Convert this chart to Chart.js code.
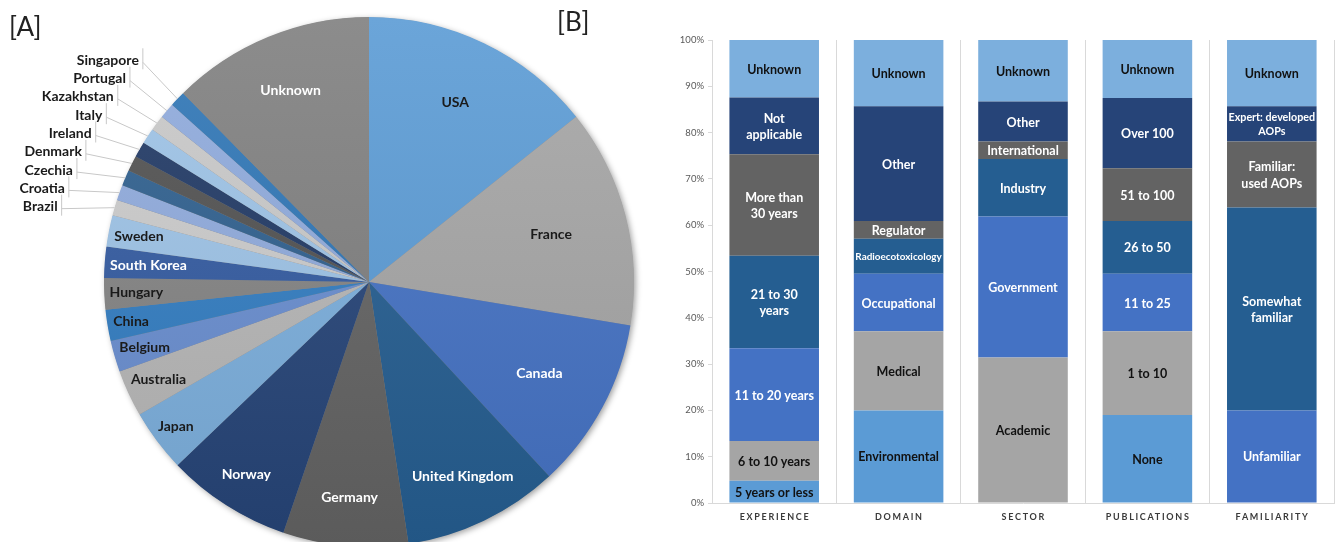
<!DOCTYPE html>
<html>
<head>
<meta charset="utf-8">
<script src="https://cdn.jsdelivr.net/npm/chart.js@4.4.1/dist/chart.umd.min.js"></script>
<style>
html, body { margin: 0; padding: 0; background: #fff; overflow: hidden; width: 1339px; height: 542px; }
#pieWrap { position: absolute; left: 0; top: 0; width: 650px; height: 564px; }
#barWrap { position: absolute; left: 650px; top: 0; width: 689px; height: 542px; }
.panel { position: absolute; font-family: Lato, sans-serif; font-size: 26px; color: #222; z-index: 2; }
</style>
</head>
<body>
<div class="panel" style="left:9px;top:10px">[A]</div>
<div class="panel" style="left:557px;top:5px">[B]</div>
<div id="pieWrap"><canvas id="pie"></canvas></div>
<div id="barWrap"><canvas id="bar"></canvas></div>
<script>
// [A] respondents by country (clockwise from 12 o'clock)
var countries = ['USA', 'France', 'Canada', 'United Kingdom', 'Germany', 'Norway', 'Japan', 'Australia',
    'Belgium', 'China', 'Hungary', 'South Korea', 'Sweden', 'Brazil', 'Croatia', 'Czechia', 'Denmark',
    'Ireland', 'Italy', 'Kazakhstan', 'Portugal', 'Singapore', 'Unknown'];
var respondents = [15, 14, 11, 10, 8, 8, 4, 3, 2, 2, 2, 2, 2, 1, 1, 1, 1, 1, 1, 1, 1, 1, 13];

var pieColors = ['#5B9BD5', '#A5A5A5', '#4472C4', '#255E91', '#636363', '#264478', '#7CAFDD', '#B7B7B7',
    '#698ED0', '#327DC2', '#848484', '#335AA1', '#9DC3E6', '#CBCBCB', '#8FAADC', '#2E5F8E', '#505050',
    '#203864', '#9DC3E6', '#C9C9C9', '#8FAADC', '#2E75B6', '#7F7F7F'];
var pieWhiteText = ['Canada', 'United Kingdom', 'Germany', 'Norway', 'South Korea', 'Unknown'];
// label distance (fraction of radius) for the big slices, the rest sit at the inside end
var pieLabelRadius = { 'USA': 0.75, 'France': 0.71, 'Canada': 0.73, 'United Kingdom': 0.815,
    'Germany': 0.815, 'Norway': 0.86, 'Unknown': 0.78 };

// [B] stacked percentages, 7 levels per group (0 = level not used)
var groups = ['EXPERIENCE', 'DOMAIN', 'SECTOR', 'PUBLICATIONS', 'FAMILIARITY'];
var experience = [4.8, 8.6, 20.0, 20.0, 21.9, 12.3, 12.4];
var domain = [20.0, 17.1, 12.4, 7.6, 3.8, 24.8, 14.3];
var sector = [0, 31.4, 30.5, 12.4, 3.8, 8.6, 13.3];
var publications = [19.0, 18.1, 12.4, 11.4, 11.4, 15.2, 12.5];
var familiarity = [0, 0, 20.0, 43.8, 14.3, 7.6, 14.3];

var experienceLabels = ['5 years or less', '6 to 10 years', '11 to 20 years', ['21 to 30', 'years'],
    ['More than', '30 years'], ['Not', 'applicable'], 'Unknown'];
var domainLabels = ['Environmental', 'Medical', 'Occupational', 'Radioecotoxicology', 'Regulator', 'Other', 'Unknown'];
var sectorLabels = ['', 'Academic', 'Government', 'Industry', 'International', 'Other', 'Unknown'];
var publicationLabels = ['None', '1 to 10', '11 to 25', '26 to 50', '51 to 100', 'Over 100', 'Unknown'];
var familiarityLabels = ['', '', 'Unfamiliar', ['Somewhat', 'familiar'], ['Familiar:', 'used AOPs'],
    ['Expert: developed', 'AOPs'], 'Unknown'];

var yTicks = [0, 10, 20, 30, 40, 50, 60, 70, 80, 90, 100];
var levelColors = ['#5B9BD5', '#A5A5A5', '#4472C4', '#255E91', '#636363', '#264478', '#7CAFDD'];
var darkTextLevels = [0, 1, 6];

var FONT = 'Lato, "Open Sans", sans-serif';

// shift a hex colour lighter (+) or darker (-)
var shade = function(hex, amt) {
    var n = parseInt(hex.slice(1), 16);
    var c = [n >> 16, (n >> 8) & 255, n & 255].map(function(v) {
        v = amt > 0 ? v + (255 - v) * amt : v * (1 + amt);
        return Math.round(Math.max(0, Math.min(255, v)));
    });
    return 'rgb(' + c.join(',') + ')';
};

var pieFill = function(c) {
    var base = pieColors[c.dataIndex];
    var area = c.chart.chartArea;
    if (!area) return base;
    var g = c.chart.ctx.createLinearGradient(0, area.top, 0, area.bottom);
    g.addColorStop(0, shade(base, 0.1));
    g.addColorStop(1, shade(base, -0.08));
    return g;
};

var pieLabelPlugin = {
    id: 'pieLabels',
    beforeDatasetsDraw: function(chart) {
        // soft shadow under the pie
        var a = chart.getDatasetMeta(0).data[0];
        var ctx = chart.ctx;
        ctx.save();
        ctx.shadowColor = 'rgba(0,0,0,0.4)';
        ctx.shadowBlur = 6;
        ctx.shadowOffsetX = 2;
        ctx.shadowOffsetY = 2;
        ctx.fillStyle = '#888';
        ctx.beginPath();
        ctx.arc(a.x, a.y, a.outerRadius - 0.5, 0, Math.PI * 2);
        ctx.fill();
        ctx.restore();
    },
    afterDatasetsDraw: function(chart) {
        var ctx = chart.ctx;
        var arcs = chart.getDatasetMeta(0).data;
        var k = 0, y0 = null;
        ctx.save();
        ctx.font = 'bold 14px ' + FONT;
        ctx.textBaseline = 'middle';
        arcs.forEach(function(arc, i) {
            var R = arc.outerRadius;
            var mid = (arc.startAngle + arc.endAngle) / 2;
            var cos = Math.cos(mid), sin = Math.sin(mid);
            var name = countries[i];
            if (respondents[i] === 1) {
                // callout label with leader line
                var ex = arc.x + R * cos, ey = arc.y + R * sin;
                if (y0 === null) y0 = ey - 1;
                var ly = y0 - k * 18.3;
                var right = ex - (57 - k * 2.3);
                var tx = right + 4;
                ctx.strokeStyle = '#c8c8c8';
                ctx.lineWidth = 1;
                ctx.beginPath();
                ctx.moveTo(tx, ly - 12);
                ctx.lineTo(tx, ly + 9);
                ctx.moveTo(tx, ly + 2);
                ctx.lineTo(ex, ey);
                ctx.stroke();
                ctx.fillStyle = '#1a1a1a';
                ctx.textAlign = 'right';
                ctx.fillText(name, right, ly);
                k++;
                return;
            }
            var w = ctx.measureText(name).width;
            var r;
            if (pieLabelRadius[name]) {
                r = R * pieLabelRadius[name];
            } else {
                r = R - (w / 2 * Math.abs(cos) + 7 * Math.abs(sin)) - 5;
            }
            ctx.fillStyle = pieWhiteText.indexOf(name) >= 0 ? '#ffffff' : '#1a1a1a';
            ctx.textAlign = 'center';
            ctx.fillText(name, arc.x + r * cos, arc.y + r * sin);
        });
        ctx.restore();
    }
};

new Chart(document.getElementById('pie'), {
    type: 'pie',
    data: {
        labels: countries,
        datasets: [{ data: respondents, backgroundColor: pieFill, borderWidth: 0 }]
    },
    options: {
        responsive: true,
        maintainAspectRatio: false,
        animation: false,
        layout: { padding: { left: 104, right: 16, top: 17, bottom: 17 } },
        plugins: { legend: { display: false }, tooltip: { enabled: false } }
    },
    plugins: [pieLabelPlugin]
});

var groupData = [experience, domain, sector, publications, familiarity];
var groupLabels = [experienceLabels, domainLabels, sectorLabels, publicationLabels, familiarityLabels];

var datasets = levelColors.map(function(color, j) {
    return {
        data: groupData.map(function(g) { return g[j]; }),
        backgroundColor: color,
        borderWidth: 0,
        barPercentage: 0.72,
        categoryPercentage: 1
    };
});

var barLabelPlugin = {
    id: 'barLabels',
    afterDatasetsDraw: function(chart) {
        var ctx = chart.ctx;
        ctx.save();
        ctx.textAlign = 'center';
        ctx.textBaseline = 'middle';
        chart.data.datasets.forEach(function(ds, j) {
            chart.getDatasetMeta(j).data.forEach(function(bar, i) {
                if (!ds.data[i]) return;
                var text = groupLabels[i][j];
                var lines = Array.isArray(text) ? text : [text];
                var size = 12.5;
                ctx.font = 'bold ' + size + 'px ' + FONT;
                var widest = Math.max.apply(null, lines.map(function(l) { return ctx.measureText(l).width; }));
                if (widest > bar.width - 3) {
                    size = size * (bar.width - 3) / widest;
                    ctx.font = 'bold ' + size + 'px ' + FONT;
                }
                var lh = size * 1.3;
                var cy = (bar.y + bar.base) / 2 - (lines.length - 1) * lh / 2 + 1;
                ctx.fillStyle = darkTextLevels.indexOf(j) >= 0 ? '#111' : '#fff';
                lines.forEach(function(l, n) { ctx.fillText(l, bar.x, cy + n * lh); });
            });
        });
        // category names, spaced out
        var xs = chart.scales.x;
        ctx.font = 'bold 9px ' + FONT;
        ctx.letterSpacing = '1.7px';
        ctx.fillStyle = '#3a3a3a';
        groups.forEach(function(g, i) {
            ctx.fillText(g, xs.getPixelForTick(i) + 0.8, chart.chartArea.bottom + 14);
        });
        ctx.restore();
    }
};

new Chart(document.getElementById('bar'), {
    type: 'bar',
    data: { labels: groups, datasets: datasets },
    options: {
        responsive: true,
        maintainAspectRatio: false,
        animation: false,
        layout: { padding: { top: 40, right: 5, left: 0, bottom: 0 } },
        plugins: { legend: { display: false }, tooltip: { enabled: false } },
        scales: {
            x: {
                stacked: true,
                grid: { display: true, offset: true, drawTicks: false, color: '#d9d9d9' },
                border: { display: true, color: '#d9d9d9' },
                ticks: { display: false },
                afterFit: function(s) { s.height = 39; }
            },
            y: {
                stacked: true,
                min: 0,
                max: 100,
                afterBuildTicks: function(s) { s.ticks = yTicks.map(function(v) { return { value: v }; }); },
                ticks: {
                    callback: function(v) { return v + '%'; },
                    font: { family: FONT, size: 9.5 },
                    color: '#595959',
                    padding: 4
                },
                grid: { display: true, drawOnChartArea: false, drawTicks: true, tickLength: 4, color: '#d9d9d9' },
                border: { display: true, color: '#d9d9d9' },
                afterFit: function(s) { s.width = 62; }
            }
        }
    },
    plugins: [barLabelPlugin]
});
</script>
</body>
</html>
